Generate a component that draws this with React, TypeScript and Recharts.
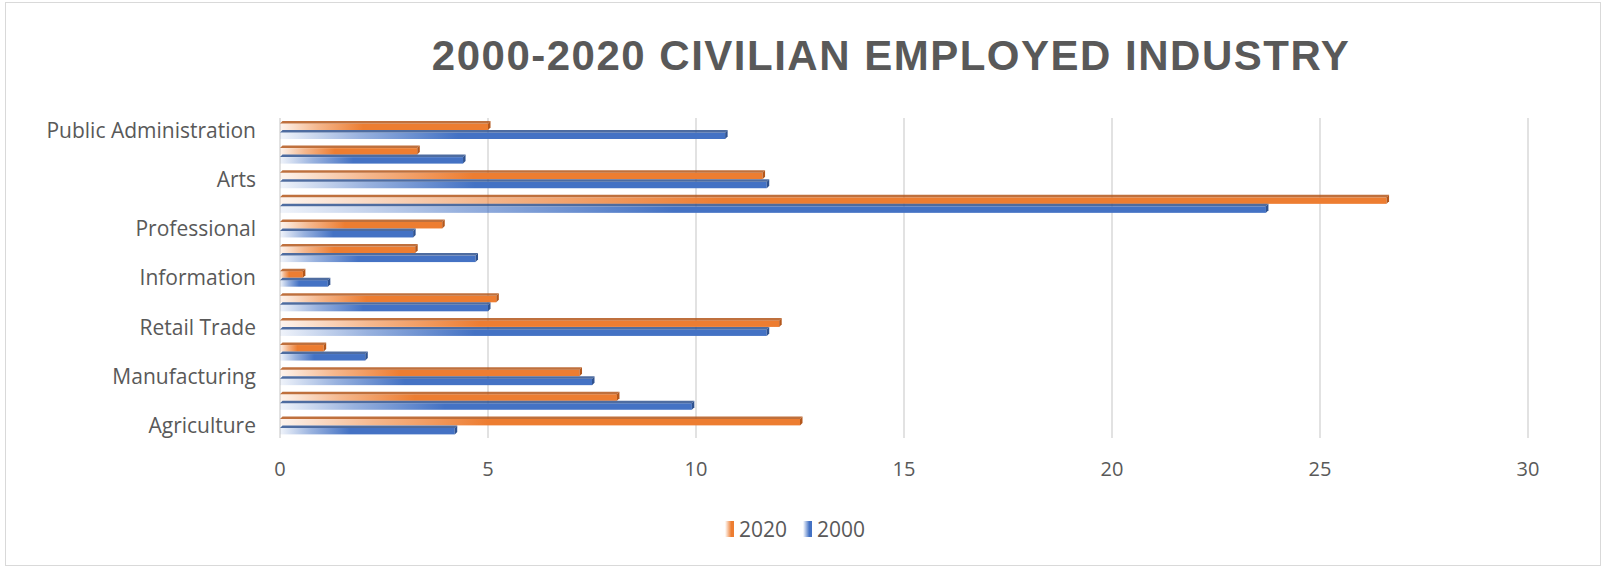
import React from "react";
import { BarChart, Bar, XAxis, YAxis, CartesianGrid } from "recharts";

// top-to-bottom order as drawn
const categories = [
  "Public Administration",
  "Other Services",
  "Arts",
  "Educational Services",
  "Professional",
  "Finance",
  "Information",
  "Transportation",
  "Retail Trade",
  "Wholesale Trade",
  "Manufacturing",
  "Construction",
  "Agriculture",
];
const values2020 = [5.0, 3.3, 11.6, 26.6, 3.9, 3.25, 0.55, 5.2, 12.0, 1.05, 7.2, 8.1, 12.5];
const values2000 = [10.7, 4.4, 11.7, 23.7, 3.2, 4.7, 1.15, 5.0, 11.7, 2.05, 7.5, 9.9, 4.2];
const xTicks = [0, 5, 10, 15, 20, 25, 30];
const seriesNames = ["2020", "2000"];

const chartData = categories.map((name, i) => ({
  name,
  y2020: values2020[i],
  y2000: values2000[i],
}));

const ORANGE = "#ED7D31";
const ORANGE_DARK = "#B4571B";
const BLUE = "#4472C4";
const BLUE_DARK = "#2F528F";
const TEXT = "#595959";
const FONT = "'Open Sans', 'Noto Sans', sans-serif";

const makeShape = (gradId: string, dark: string) => (props: any) => {
  const { x, y, width, height } = props;
  if (!width || width <= 0) return <g />;
  const d = 2.5;
  return (
    <g>
      <rect x={x} y={y + d} width={width} height={height - d} fill={`url(#${gradId})`} />
      <polygon
        points={`${x},${y + d} ${x + d},${y} ${x + width + d},${y} ${x + width},${y + d}`}
        fill={dark}
        opacity={0.85}
      />
      <polygon
        points={`${x + width},${y + d} ${x + width + d},${y} ${x + width + d},${y + height - d} ${x + width},${y + height}`}
        fill={dark}
      />
    </g>
  );
};

const legendColors = [ORANGE, BLUE];

export default function App() {
  return (
    <div
      style={{
        position: "absolute",
        left: 0,
        top: 0,
        width: 1606,
        height: 569,
        background: "#fff",
      }}
    >
      <div
        style={{
          position: "absolute",
          left: 5,
          top: 2,
          width: 1594,
          height: 562,
          border: "1px solid #d9d9d9",
        }}
      />
      <div
        style={{
          position: "absolute",
          left: 0,
          width: 1782,
          top: 28,
          textAlign: "center",
          fontFamily: "'Liberation Sans', Arial, sans-serif",
          fontWeight: 700,
          fontSize: 42,
          letterSpacing: 1.5,
          color: TEXT,
          lineHeight: "56px",
        }}
      >
        2000-2020 CIVILIAN EMPLOYED INDUSTRY
      </div>
      <div style={{ position: "absolute", left: 0, top: 0 }}>
        <BarChart
          width={1606}
          height={569}
          layout="vertical"
          data={chartData}
          margin={{ top: 118, right: 78, bottom: 101, left: 0 }}
          barSize={9}
          barGap={0}
        >
          <defs>
            <linearGradient id="gOrange" x1="0" y1="0" x2="1" y2="0">
              <stop offset="0" stopColor={ORANGE} stopOpacity={0.08} />
              <stop offset="0.18" stopColor={ORANGE} stopOpacity={0.55} />
              <stop offset="0.4" stopColor={ORANGE} stopOpacity={1} />
              <stop offset="1" stopColor={ORANGE} stopOpacity={1} />
            </linearGradient>
            <linearGradient id="gBlue" x1="0" y1="0" x2="1" y2="0">
              <stop offset="0" stopColor={BLUE} stopOpacity={0.08} />
              <stop offset="0.18" stopColor={BLUE} stopOpacity={0.55} />
              <stop offset="0.4" stopColor={BLUE} stopOpacity={1} />
              <stop offset="1" stopColor={BLUE} stopOpacity={1} />
            </linearGradient>
          </defs>
          <CartesianGrid horizontal={false} stroke="#d9d9d9" strokeWidth={1.5} />
          <XAxis
            type="number"
            domain={[0, 30]}
            ticks={xTicks}
            axisLine={false}
            tickLine={false}
            tickSize={0}
            tickMargin={24}
            height={30}
            tick={{ fill: TEXT, fontSize: 20, fontFamily: FONT }}
          />
          <YAxis
            type="category"
            dataKey="name"
            width={280}
            interval={1}
            axisLine={false}
            tickLine={false}
            tickSize={0}
            tickMargin={24}
            tick={{ fill: TEXT, fontSize: 21, fontFamily: FONT }}
          />
          <Bar
            dataKey="y2020"
            name="2020"
            fill={ORANGE}
            isAnimationActive={false}
            shape={makeShape("gOrange", ORANGE_DARK)}
          />
          <Bar
            dataKey="y2000"
            name="2000"
            fill={BLUE}
            isAnimationActive={false}
            shape={makeShape("gBlue", BLUE_DARK)}
          />
        </BarChart>
      </div>
      <div
        style={{
          position: "absolute",
          left: 0,
          width: 1606,
          top: 515,
          display: "flex",
          justifyContent: "center",
          alignItems: "center",
          fontFamily: FONT,
          fontSize: 21,
          color: TEXT,
        }}
      >
        {seriesNames.map((label, i) => (
          <div key={label} style={{ display: "flex", alignItems: "center", marginRight: 16 }}>
            <div
              style={{
                width: 9,
                height: 16,
                marginRight: 5,
                background: `linear-gradient(to right, rgba(255,255,255,0.9), ${legendColors[i]} 70%)`,
              }}
            />
            <span>{label}</span>
          </div>
        ))}
      </div>
    </div>
  );
}
